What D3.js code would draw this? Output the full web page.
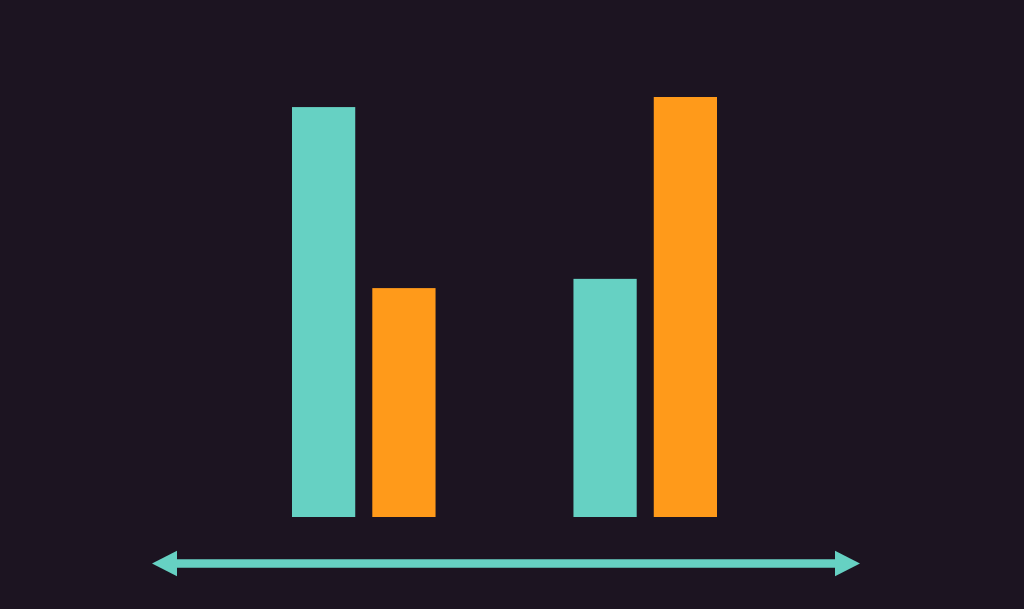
<!DOCTYPE html>
<html>
<head>
  <script src="https://d3js.org/d3.v7.min.js"></script>
  <style>
    html, body { margin: 0; padding: 0; background: #1c1421; }
    svg { display: block; }
  </style>
</head>
<body>
<script>
// groups and series
var groups = ["A", "B"];
var series = ["teal", "orange"];
var tealValues = [97.6, 56.7];
var orangeValues = [54.5, 100];

var colors = { teal: "#66d1c3", orange: "#ff9a1a" };

var width = 1024, height = 609;
var baseline = 517;

var svg = d3.select("body").append("svg")
  .attr("width", width)
  .attr("height", height);

svg.append("rect")
  .attr("width", width).attr("height", height)
  .attr("fill", "#1c1421");

var x0 = d3.scaleBand().domain(groups).range([292, 717]).paddingInner(0.49).paddingOuter(0);
var x1 = d3.scaleBand().domain(series).range([0, x0.bandwidth()]).paddingInner(0.2125).paddingOuter(0);
var y = d3.scaleLinear().domain([0, 100]).range([baseline, 97]);

var rows = groups.map(function(g, i) {
  return { group: g, values: [
    { key: "teal", value: tealValues[i] },
    { key: "orange", value: orangeValues[i] }
  ]};
});

var g = svg.selectAll("g.grp")
  .data(rows)
  .enter().append("g")
  .attr("class", "grp")
  .attr("transform", function(d) { return "translate(" + x0(d.group) + ",0)"; });

g.selectAll("rect")
  .data(function(d) { return d.values; })
  .enter().append("rect")
  .attr("x", function(d) { return x1(d.key); })
  .attr("y", function(d) { return y(d.value); })
  .attr("width", x1.bandwidth())
  .attr("height", function(d) { return baseline - y(d.value); })
  .attr("fill", function(d) { return colors[d.key]; });

// double-headed arrow under the bars
var ay = 563.5, left = 152, right = 860, head = 25, headH = 25.5;
svg.append("line")
  .attr("x1", left + head).attr("x2", right - head)
  .attr("y1", ay).attr("y2", ay)
  .attr("stroke", colors.teal)
  .attr("stroke-width", 8.5);

svg.append("path")
  .attr("d", "M" + left + "," + ay + "L" + (left + head) + "," + (ay - headH / 2) + "L" + (left + head) + "," + (ay + headH / 2) + "Z")
  .attr("fill", colors.teal);
svg.append("path")
  .attr("d", "M" + right + "," + ay + "L" + (right - head) + "," + (ay - headH / 2) + "L" + (right - head) + "," + (ay + headH / 2) + "Z")
  .attr("fill", colors.teal);
</script>
</body>
</html>
